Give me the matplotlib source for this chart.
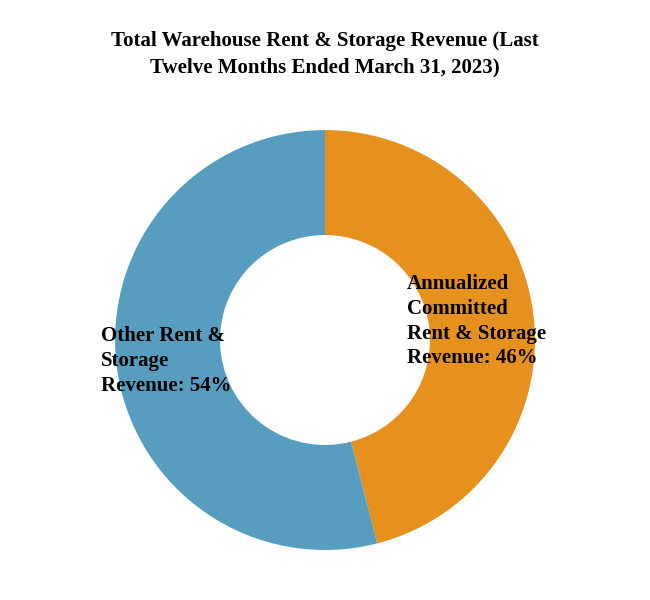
import matplotlib.pyplot as plt

plt.rcParams["font.family"] = ["Liberation Serif", "DejaVu Serif"]

labels = ["Annualized\nCommitted\nRent & Storage\nRevenue: 46%", "Other Rent &\nStorage\nRevenue: 54%"]
shares = [46, 54]
colors = ["#E6901E", "#579DC0"]

fig = plt.figure(figsize=(6.5, 6), dpi=100)
ax = fig.add_axes([0.177, 0.0833, 0.646, 0.7])
ax.pie(
    shares,
    colors=colors,
    startangle=90,
    counterclock=False,
    radius=1,
    wedgeprops=dict(width=0.5, linewidth=0),
)
ax.set_xlim(-1, 1)
ax.set_ylim(-1, 1)
ax.set_aspect("equal")

ax.text(0.39, 0.09, labels[0], ha="left", va="center", fontsize=15,
        fontweight="bold", linespacing=1.32)
ax.text(-1.067, -0.1, labels[1], ha="left", va="center", fontsize=15,
        fontweight="bold", linespacing=1.32)

fig.text(0.5, 1 - 31 / 600,
         "Total Warehouse Rent & Storage Revenue (Last\nTwelve Months Ended March 31, 2023)",
         ha="center", va="top", fontsize=15, fontweight="bold", linespacing=1.4)

fig.savefig("out.png", dpi=100)
